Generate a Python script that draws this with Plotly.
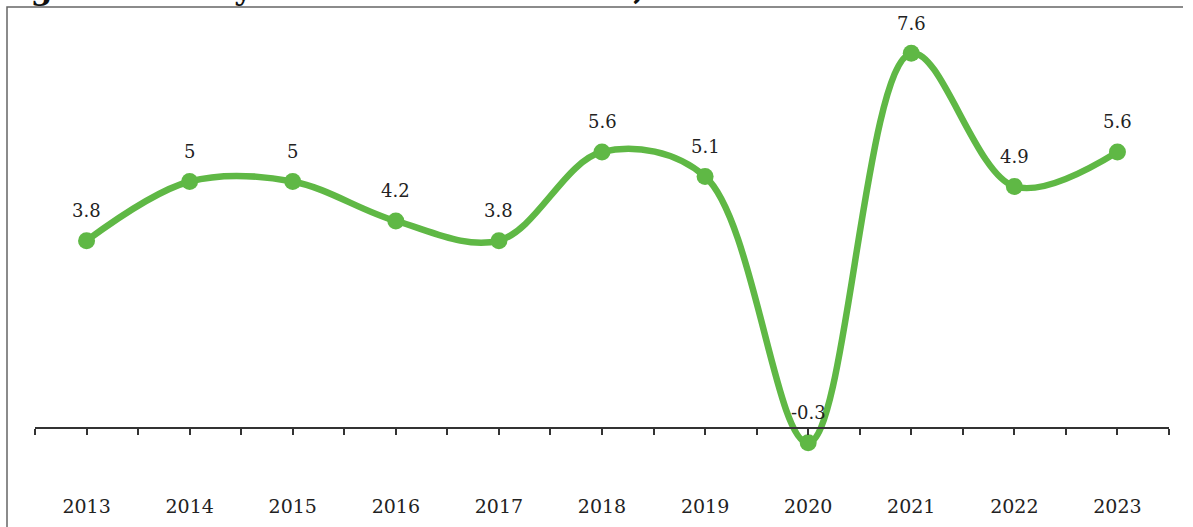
import plotly.graph_objects as go

# Kenya real GDP growth, percent
years = [2013, 2014, 2015, 2016, 2017, 2018, 2019, 2020, 2021, 2022, 2023]
growth = [3.8, 5, 5, 4.2, 3.8, 5.6, 5.1, -0.3, 7.6, 4.9, 5.6]
year_labels = [str(y) for y in years]

title_text = "Figure 3: Kenya's GDP Growth Rates, 2013-2023"

GREEN = "#5fb845"
TEXT = "#222222"
SERIF = "DejaVu Serif, Liberation Serif, serif"

W, H = 1193, 527
ML, MR, MT, MB = 35, 24, 20, 57
PW, PH = W - ML - MR, H - MT - MB
Y_MIN, Y_MAX = -0.852, 8.276


def px_x(p):
    return (p - ML) / PW


def px_y(p):
    return (H - MB - p) / PH


fig = go.Figure()

fig.add_trace(go.Scatter(
    x=years, y=growth,
    mode="lines+markers",
    line=dict(color=GREEN, width=6.5, shape="spline", smoothing=1),
    marker=dict(color=GREEN, size=17),
    hoverinfo="skip",
    showlegend=False,
))

# value labels above each point
for x, v in zip(years, growth):
    fig.add_annotation(
        x=x, y=v, text=f"{v:g}", showarrow=False,
        yshift=30, font=dict(family=SERIF, size=18, color=TEXT),
    )

# zero line with tick marks at category centres and edges
fig.add_trace(go.Scatter(x=[years[0]], y=[None], xaxis="x2", yaxis="y",
                         showlegend=False, hoverinfo="skip"))

zero_pos = (0 - Y_MIN) / (Y_MAX - Y_MIN)

fig.update_layout(
    width=W, height=H,
    margin=dict(l=ML, r=MR, t=MT, b=MB),
    paper_bgcolor="white", plot_bgcolor="white",
    xaxis=dict(
        range=[years[0] - 0.5, years[-1] + 0.5],
        tickvals=years, ticktext=year_labels,
        showline=False, showgrid=False, zeroline=False,
        ticks="outside", ticklen=19, tickcolor="rgba(0,0,0,0)",
        tickfont=dict(family=SERIF, size=19, color=TEXT),
        automargin=False,
    ),
    xaxis2=dict(
        overlaying="x", anchor="free", position=zero_pos, side="bottom",
        range=[years[0] - 0.5, years[-1] + 0.5],
        tick0=years[0] - 0.5, dtick=0.5,
        showline=True, linecolor="#333", linewidth=1.5,
        ticks="outside", ticklen=6, tickwidth=1.5, tickcolor="#333",
        showticklabels=False, showgrid=False, zeroline=False,
        automargin=False,
    ),
    yaxis=dict(range=[Y_MIN, Y_MAX], visible=False, automargin=False),
    shapes=[dict(
        type="path", xref="paper", yref="paper",
        path=(f"M {px_x(7)},{px_y(560)} L {px_x(7)},{px_y(7)} "
              f"L {px_x(1183)},{px_y(7)}"),
        line=dict(color="#666", width=1.5),
    )],
)

fig.add_annotation(
    xref="paper", yref="paper", x=px_x(842), y=px_y(8),
    xanchor="right", yanchor="bottom", showarrow=False,
    text=f"<b>{title_text}</b>",
    font=dict(family=SERIF, size=31, color="#111"),
)

fig.write_html("out.html")
